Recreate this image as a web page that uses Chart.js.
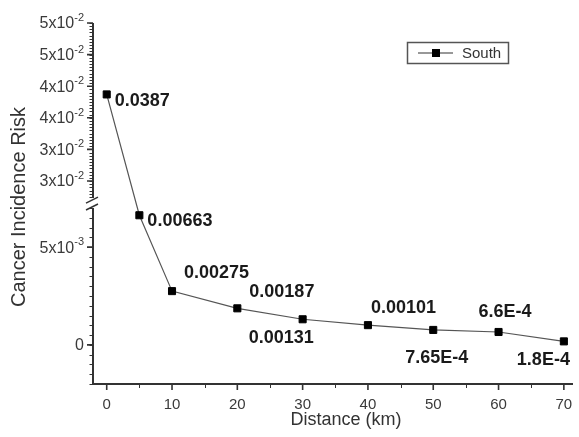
<!DOCTYPE html>
<html>
<head>
<meta charset="utf-8">
<script src="https://cdn.jsdelivr.net/npm/chart.js@4.4.1/dist/chart.umd.min.js"></script>
<style>
  body { margin: 0; background: #fff; }
  #wrap { width: 579px; height: 437px; }
</style>
</head>
<body>
<div id="wrap"><canvas id="chart" width="579" height="437"></canvas></div>
<script>
const distanceKm = [0, 5, 10, 20, 30, 40, 50, 60, 70];
const southRisk = [0.0387, 0.00663, 0.00275, 0.00187, 0.00131, 0.00101, 0.000765, 0.00066, 0.00018];
const riskLabels = ['0.0387', '0.00663', '0.00275', '0.00187', '0.00131', '0.00101', '7.65E-4', '6.6E-4', '1.8E-4'];

const xMajorTicks = [0, 10, 20, 30, 40, 50, 60, 70];
const xMinorTicks = [5, 15, 25, 35, 45, 55, 65];
const yMajorTicks = [0.05, 0.045, 0.04, 0.035, 0.03, 0.025, 0.005, 0];
const yTickBase = ['5x10', '5x10', '4x10', '4x10', '3x10', '3x10', '5x10', '0'];
const yTickExp = ['-2', '-2', '-2', '-2', '-2', '-2', '-3', ''];

// broken y axis: lower and upper value ranges, share of the axis height each one gets
const yBreak = { lower: [-0.002, 0.007], upper: [0.0223, 0.05], lowerFrac: 0.4875, upperFrac: 0.485, minorStep: 0.0005 };

const FONT = '"Liberation Sans", Arial, sans-serif';

class BrokenLinearScale extends Chart.LinearScale {
    getPixelForValue(v) {
        const b = yBreak;
        const h = this.bottom - this.top;
        const lowTop = this.bottom - b.lowerFrac * h;
        const upBottom = this.top + b.upperFrac * h;
        if (v <= b.lower[1]) {
            return this.bottom - (v - b.lower[0]) / (b.lower[1] - b.lower[0]) * (this.bottom - lowTop);
        }
        if (v >= b.upper[0]) {
            return upBottom - (v - b.upper[0]) / (b.upper[1] - b.upper[0]) * (upBottom - this.top);
        }
        return lowTop - (v - b.lower[1]) / (b.upper[0] - b.lower[1]) * (lowTop - upBottom);
    }
}
BrokenLinearScale.id = 'brokenLinear';
BrokenLinearScale.defaults = Chart.LinearScale.defaults;
Chart.register(BrokenLinearScale);

const axesPlugin = {
    id: 'brokenAxes',
    beforeDatasetsDraw(chart) {
        const { ctx, chartArea: a, scales: { x, y } } = chart;
        const upEnd = y.getPixelForValue(yBreak.upper[0]);
        const lowEnd = y.getPixelForValue(yBreak.lower[1]);
        ctx.save();
        ctx.strokeStyle = '#333';
        ctx.lineWidth = 2;
        ctx.beginPath();
        ctx.moveTo(a.left - 1, a.bottom);
        ctx.lineTo(a.right, a.bottom);
        ctx.moveTo(a.left, a.top);
        ctx.lineTo(a.left, upEnd);
        ctx.moveTo(a.left, lowEnd);
        ctx.lineTo(a.left, a.bottom);
        ctx.stroke();

        // break marks
        ctx.lineWidth = 1.5;
        ctx.beginPath();
        ctx.moveTo(a.left - 7, upEnd + 5);
        ctx.lineTo(a.left + 5, upEnd - 1);
        ctx.moveTo(a.left - 7, lowEnd + 2);
        ctx.lineTo(a.left + 5, lowEnd - 4);
        ctx.stroke();

        // y minor ticks
        ctx.lineWidth = 1;
        ctx.beginPath();
        [yBreak.lower, yBreak.upper].forEach(r => {
            const start = Math.ceil(r[0] / yBreak.minorStep - 1e-6);
            const end = Math.floor(r[1] / yBreak.minorStep + 1e-6);
            for (let i = start; i <= end; i++) {
                const py = Math.round(y.getPixelForValue(i * yBreak.minorStep)) + 0.5;
                ctx.moveTo(a.left - 3.5, py);
                ctx.lineTo(a.left, py);
            }
        });
        xMinorTicks.forEach(v => {
            const px = Math.round(x.getPixelForValue(v)) + 0.5;
            ctx.moveTo(px, a.bottom);
            ctx.lineTo(px, a.bottom + 4);
        });
        ctx.stroke();

        // major ticks
        ctx.lineWidth = 1.6;
        ctx.beginPath();
        yMajorTicks.forEach(v => {
            const py = y.getPixelForValue(v);
            ctx.moveTo(a.left - 6, py);
            ctx.lineTo(a.left, py);
        });
        xMajorTicks.forEach(v => {
            const px = x.getPixelForValue(v);
            ctx.moveTo(px, a.bottom);
            ctx.lineTo(px, a.bottom + 6);
        });
        ctx.stroke();

        // tick labels
        ctx.fillStyle = '#3a3a3a';
        ctx.textBaseline = 'middle';
        yMajorTicks.forEach((v, i) => {
            const py = y.getPixelForValue(v);
            const right = a.left - 9;
            ctx.font = '11px ' + FONT;
            const wExp = yTickExp[i] ? ctx.measureText(yTickExp[i]).width : 0;
            if (yTickExp[i]) {
                ctx.textAlign = 'left';
                ctx.fillText(yTickExp[i], right - wExp, py - 5);
            }
            ctx.font = '16px ' + FONT;
            ctx.textAlign = 'right';
            ctx.fillText(yTickBase[i], right - wExp, py + 1);
        });
        ctx.font = '15px ' + FONT;
        ctx.textAlign = 'center';
        xMajorTicks.forEach(v => {
            ctx.fillText(String(v), x.getPixelForValue(v), a.bottom + 21);
        });

        // axis titles
        ctx.font = '18px ' + FONT;
        ctx.fillStyle = '#333';
        ctx.fillText('Distance (km)', 346, a.bottom + 36);
        ctx.save();
        ctx.translate(19, 207);
        ctx.rotate(-Math.PI / 2);
        ctx.font = '20px ' + FONT;
        ctx.fillText('Cancer Incidence Risk', 0, 0);
        ctx.restore();
        ctx.restore();
    },
    afterDatasetsDraw(chart, args, opts) {
        const { ctx } = chart;
        const meta = chart.getDatasetMeta(0);
        ctx.save();
        ctx.font = 'bold 18px ' + FONT;
        ctx.fillStyle = '#1a1a1a';
        ctx.textAlign = 'left';
        ctx.textBaseline = 'middle';
        meta.data.forEach((pt, i) => {
            const off = opts.offsets[i];
            ctx.fillText(riskLabels[i], pt.x + off[0], pt.y + off[1]);
        });

        // legend
        const lx = opts.legendAt[0], ly = opts.legendAt[1];
        ctx.strokeStyle = '#555';
        ctx.lineWidth = 1.5;
        ctx.strokeRect(lx + 0.5, ly + 0.5, 101, 21);
        ctx.strokeStyle = '#333';
        ctx.lineWidth = 1.2;
        ctx.beginPath();
        ctx.moveTo(lx + 11, ly + 11);
        ctx.lineTo(lx + 46, ly + 11);
        ctx.stroke();
        ctx.fillStyle = '#000';
        ctx.fillRect(lx + 25, ly + 7, 8, 8);
        ctx.fillStyle = '#333';
        ctx.font = '15px ' + FONT;
        ctx.fillText(chart.data.datasets[0].label, lx + 55, ly + 12);
        ctx.restore();
    }
};

new Chart(document.getElementById('chart'), {
    type: 'line',
    data: {
        datasets: [{
            label: 'South',
            data: distanceKm.map((d, i) => ({ x: d, y: southRisk[i] })),
            borderColor: '#555',
            borderWidth: 1.2,
            pointStyle: 'rect',
            pointRadius: 5,
            pointBorderWidth: 1,
            pointBackgroundColor: '#000',
            pointBorderColor: '#000',
            tension: 0
        }]
    },
    options: {
        responsive: false,
        animation: false,
        devicePixelRatio: 1,
        events: [],
        layout: { padding: { left: 93, right: 1, top: 23, bottom: 53 } },
        scales: {
            x: { type: 'linear', min: -2.1, max: 71.4, display: false },
            y: { type: 'brokenLinear', min: yBreak.lower[0], max: yBreak.upper[1], display: false }
        },
        plugins: {
            legend: { display: false },
            tooltip: { enabled: false },
            brokenAxes: {
                offsets: [[8, 7], [8, 6], [12, -18], [12, -16], [-54, 19], [3, -17], [-28, 28], [-20, -20], [-47, 19]],
                legendAt: [407, 42]
            }
        }
    },
    plugins: [axesPlugin]
});
</script>
</body>
</html>
